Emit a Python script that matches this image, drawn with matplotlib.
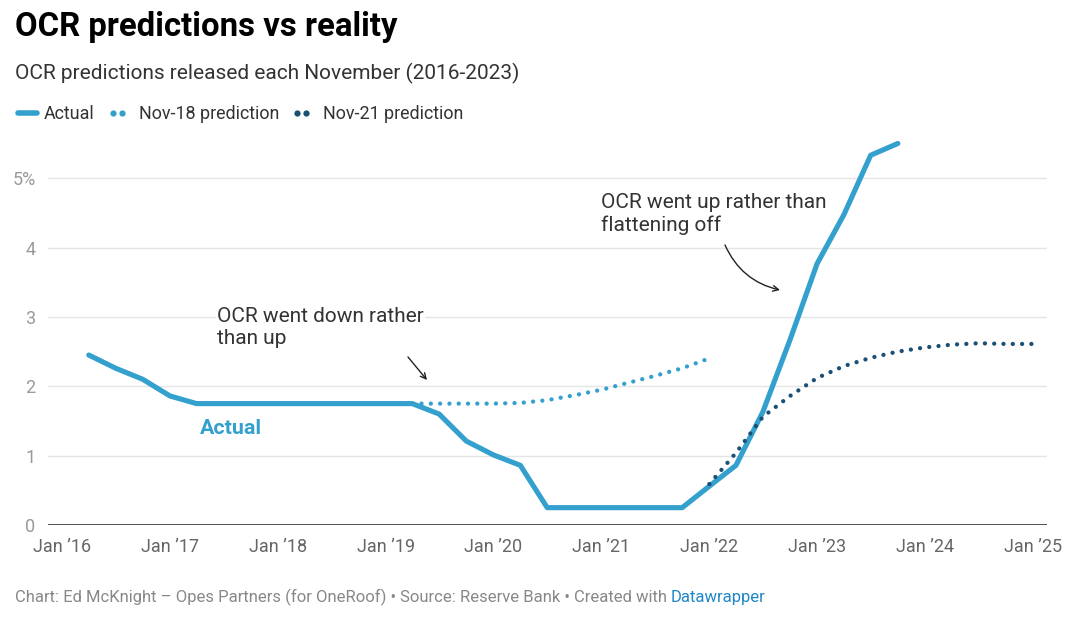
import matplotlib.pyplot as plt
from matplotlib.lines import Line2D
import pandas as pd

plt.rcParams['font.family'] = ['Roboto', 'DejaVu Sans']

# OCR data (quarterly, %)
actual_dates = ["2016-04-01", "2016-07-01", "2016-10-01", "2017-01-01", "2017-04-01",
                "2017-07-01", "2017-10-01", "2018-01-01", "2018-04-01", "2018-07-01",
                "2018-10-01", "2019-01-01", "2019-04-01", "2019-07-01", "2019-10-01",
                "2020-01-01", "2020-04-01", "2020-07-01", "2020-10-01", "2021-01-01",
                "2021-04-01", "2021-07-01", "2021-10-01", "2022-01-01", "2022-04-01",
                "2022-07-01", "2022-10-01", "2023-01-01", "2023-04-01", "2023-07-01",
                "2023-10-01"]
actual_ocr = [2.45, 2.26, 2.10, 1.86, 1.75,
              1.75, 1.75, 1.75, 1.75, 1.75,
              1.75, 1.75, 1.75, 1.60, 1.21,
              1.01, 0.86, 0.25, 0.25, 0.25,
              0.25, 0.25, 0.25, 0.56, 0.86,
              1.63, 2.67, 3.77, 4.47, 5.33,
              5.50]

nov18_dates = ["2019-04-01", "2019-07-01", "2019-10-01", "2020-01-01", "2020-04-01",
               "2020-07-01", "2020-10-01", "2021-01-01", "2021-04-01", "2021-07-01",
               "2021-10-01", "2021-12-24"]
nov18_ocr = [1.75, 1.75, 1.75, 1.75, 1.76, 1.80, 1.87, 1.95, 2.05, 2.15, 2.26, 2.39]

nov21_dates = ["2022-01-01", "2022-04-01", "2022-07-01", "2022-10-01", "2023-01-01",
               "2023-04-01", "2023-07-01", "2023-10-01", "2024-01-01", "2024-04-01",
               "2024-07-01", "2024-10-01", "2025-01-01"]
nov21_ocr = [0.59, 1.04, 1.56, 1.86, 2.12, 2.29, 2.41, 2.50, 2.56, 2.60, 2.62, 2.61, 2.61]

x_years = list(range(2016, 2026))
x_labels = [f"Jan \u2019{y % 100:02d}" for y in x_years]
y_ticks = [0, 1, 2, 3, 4, 5]
y_labels = ["0", "1", "2", "3", "4", "5%"]

blue = "#34a0ce"
dark = "#1b4f74"
txt = "#333333"

W, H = 1090, 617
fig = plt.figure(figsize=(W / 100, H / 100), dpi=100)


def fx(x):
    return x / W


def fy(y):
    return 1 - y / H


ax = fig.add_axes([fx(48), fy(525), fx(1047) - fx(48), fy(140) - fy(525)])

ax.plot(pd.to_datetime(actual_dates), actual_ocr, color=blue, lw=3.7,
        solid_capstyle="round", solid_joinstyle="round", clip_on=False, zorder=3)
ax.plot(pd.to_datetime(nov18_dates), nov18_ocr, color=blue, lw=3.1,
        linestyle=(0, (0.01, 2.15)), dash_capstyle="round", clip_on=False, zorder=4)
ax.plot(pd.to_datetime(nov21_dates), nov21_ocr, color=dark, lw=3.1,
        linestyle=(0, (0.01, 2.15)), dash_capstyle="round", clip_on=False, zorder=4)

ax.set_xlim(pd.Timestamp("2015-11-15"), pd.Timestamp("2025-02-17"))
ax.set_ylim(0, 5.55)
ax.set_xticks(pd.to_datetime([f"{y}-01-01" for y in x_years]))
ax.set_xticklabels(x_labels)
ax.set_yticks(y_ticks)
ax.set_yticklabels(y_labels)
ax.tick_params(axis="x", length=0, pad=9, labelsize=13, labelcolor="#666666")
ax.tick_params(axis="y", length=0, pad=9, labelsize=13, labelcolor="#9a9a9a")
for s in ax.spines.values():
    s.set_visible(False)
ax.grid(axis="y", color="#e5e5e5", lw=1)
ax.grid(axis="x", visible=False)
ax.axhline(0, color="#222222", lw=1.1, zorder=2)

# titles
fig.text(fx(15), fy(36), "OCR predictions vs reality", fontsize=23.7, fontweight="bold",
         color="#000000", va="baseline")
fig.text(fx(15), fy(79), "OCR predictions released each November (2016-2023)", fontsize=15,
         color=txt, va="baseline")

# legend
fig.add_artist(Line2D([fx(18), fx(37)], [fy(113), fy(113)], transform=fig.transFigure,
                      color=blue, lw=4, solid_capstyle="round"))
fig.text(fx(44), fy(119), "Actual", fontsize=12.9, color=txt, va="baseline")
fig.add_artist(Line2D([fx(113), fx(122)], [fy(113), fy(113)], transform=fig.transFigure,
                      color=blue, ls="none", marker="o", ms=4.5, mec="none"))
fig.text(fx(139), fy(119), "Nov-18 prediction", fontsize=12.9, color=txt, va="baseline")
fig.add_artist(Line2D([fx(297), fx(306)], [fy(113), fy(113)], transform=fig.transFigure,
                      color=dark, ls="none", marker="o", ms=4.5, mec="none"))
fig.text(fx(323), fy(119), "Nov-21 prediction", fontsize=12.9, color=txt, va="baseline")

# annotations
fig.text(fx(217), fy(307), "OCR went down rather\nthan up", fontsize=15, color=txt, va="top",
         linespacing=1.2, bbox=dict(facecolor="white", edgecolor="none", pad=1), zorder=5)
fig.text(fx(601), fy(193), "OCR went up rather than\nflattening off", fontsize=15, color=txt,
         va="top", linespacing=1.2, zorder=5)
fig.text(fx(200), fy(434), "Actual", fontsize=15.4, fontweight="bold", color=blue, va="baseline")

ax.annotate("", xy=(427, H - 380), xytext=(408, H - 357), xycoords="figure pixels",
            textcoords="figure pixels",
            arrowprops=dict(arrowstyle="->", color="#222222", lw=1, shrinkA=0, shrinkB=0))
ax.annotate("", xy=(780, H - 290), xytext=(725, H - 245), xycoords="figure pixels",
            textcoords="figure pixels",
            arrowprops=dict(arrowstyle="->", color="#222222", lw=1, shrinkA=0, shrinkB=0,
                            connectionstyle="arc3,rad=0.25"))

# footer
foot = fig.text(fx(15), fy(602), "Chart: Ed McKnight \u2013 Opes Partners (for OneRoof) \u2022 "
                "Source: Reserve Bank \u2022 Created with ", fontsize=12, color="#888888",
                va="baseline")
fig.canvas.draw()
bb = foot.get_window_extent()
fig.text(bb.x1 / W, fy(602), "Datawrapper", fontsize=12, color="#1f86c9", va="baseline")

fig.savefig("out.png", dpi=100)
